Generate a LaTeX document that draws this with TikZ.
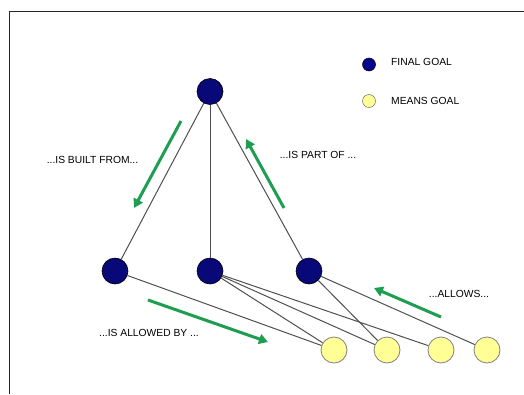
\documentclass[tikz,border=0pt]{standalone}
\usepackage{fontspec}
\setmainfont{Liberation Sans}
\usetikzlibrary{arrows.meta}
\definecolor{navygoal}{RGB}{8,8,120}
\definecolor{yellowgoal}{RGB}{255,255,150}
\definecolor{arrowgreen}{RGB}{30,158,80}
\definecolor{edgegrey}{RGB}{80,80,80}
\tikzset{
  finalgoal/.style={circle,draw=black,line width=0.6pt,fill=navygoal,minimum size=26pt,inner sep=0pt},
  meansgoal/.style={circle,draw=gray,line width=0.8pt,fill=yellowgoal,minimum size=26pt,inner sep=0pt},
  legfinal/.style={circle,draw=black,line width=0.5pt,fill=navygoal!85!blue,minimum size=13pt,inner sep=0pt},
  legmeans/.style={circle,draw=gray,line width=0.6pt,fill=yellowgoal,minimum size=13pt,inner sep=0pt},
  link/.style={draw=edgegrey,line width=1pt},
  flow/.style={draw=arrowgreen,line width=3pt,-{Triangle[length=9pt,width=10pt]}},
  lbl/.style={font=\fontsize{10.3}{12}\selectfont,text=black,inner sep=0pt},
  frameline/.style={draw=black!85,line width=1.5pt}
}
\begin{document}
\begin{tikzpicture}[x=1pt,y=-1pt]
\useasboundingbox (0,0) rectangle (524,394);
\fill[white] (0,0) rectangle (524,394);
\coordinate (fbl) at (9.5,394);
\coordinate (ftl) at (9.5,11.5);
\coordinate (ftr) at (524,11.5);
\draw[frameline] (fbl) -- (ftl) -- (ftr);

\node[finalgoal] (top) at (210,91.5) {};
\node[finalgoal] (m1) at (115,271) {};
\node[finalgoal] (m2) at (210,271) {};
\node[finalgoal] (m3) at (309,271) {};
\node[meansgoal] (y1) at (334,350) {};
\node[meansgoal] (y2) at (387,350) {};
\node[meansgoal] (y3) at (441,350) {};
\node[meansgoal] (y4) at (487,350) {};

\draw[link] (top) -- (m1);
\draw[link] (top) -- (m2);
\draw[link] (top) -- (m3);
\draw[link] (m1) -- (y1);
\draw[link] (m2) -- (y1);
\draw[link] (m2) -- (y2);
\draw[link] (m2) -- (y3);
\draw[link] (m3) -- (y2);
\draw[link] (m3) -- (y4);

\node[legfinal] (lf) at (369,64.5) {};
\node[legmeans] (lm) at (369,101) {};
\node[lbl,anchor=west] (tf) at (391,61.5) {FINAL GOAL};
\node[lbl,anchor=west] (tm) at (391,101) {MEANS GOAL};

\node[lbl] (tb) at (92.5,160) {...IS BUILT FROM...};
\node[lbl] (tp) at (318,155) {...IS PART OF ...};
\node[lbl] (ta) at (459,294) {...ALLOWS...};
\node[lbl] (tab) at (149,333) {...IS ALLOWED BY ...};

\coordinate (a1s) at (181,121);
\coordinate (a1e) at (134,208);
\coordinate (a2s) at (284,208);
\coordinate (a2e) at (246,139);
\coordinate (a3s) at (441,317);
\coordinate (a3e) at (374,288);
\coordinate (a4s) at (148,300);
\coordinate (a4e) at (268,342);
\draw[flow] (a1s) -- (a1e);
\draw[flow] (a2s) -- (a2e);
\draw[flow] (a3s) -- (a3e);
\draw[flow] (a4s) -- (a4e);
\end{tikzpicture}
\end{document}
